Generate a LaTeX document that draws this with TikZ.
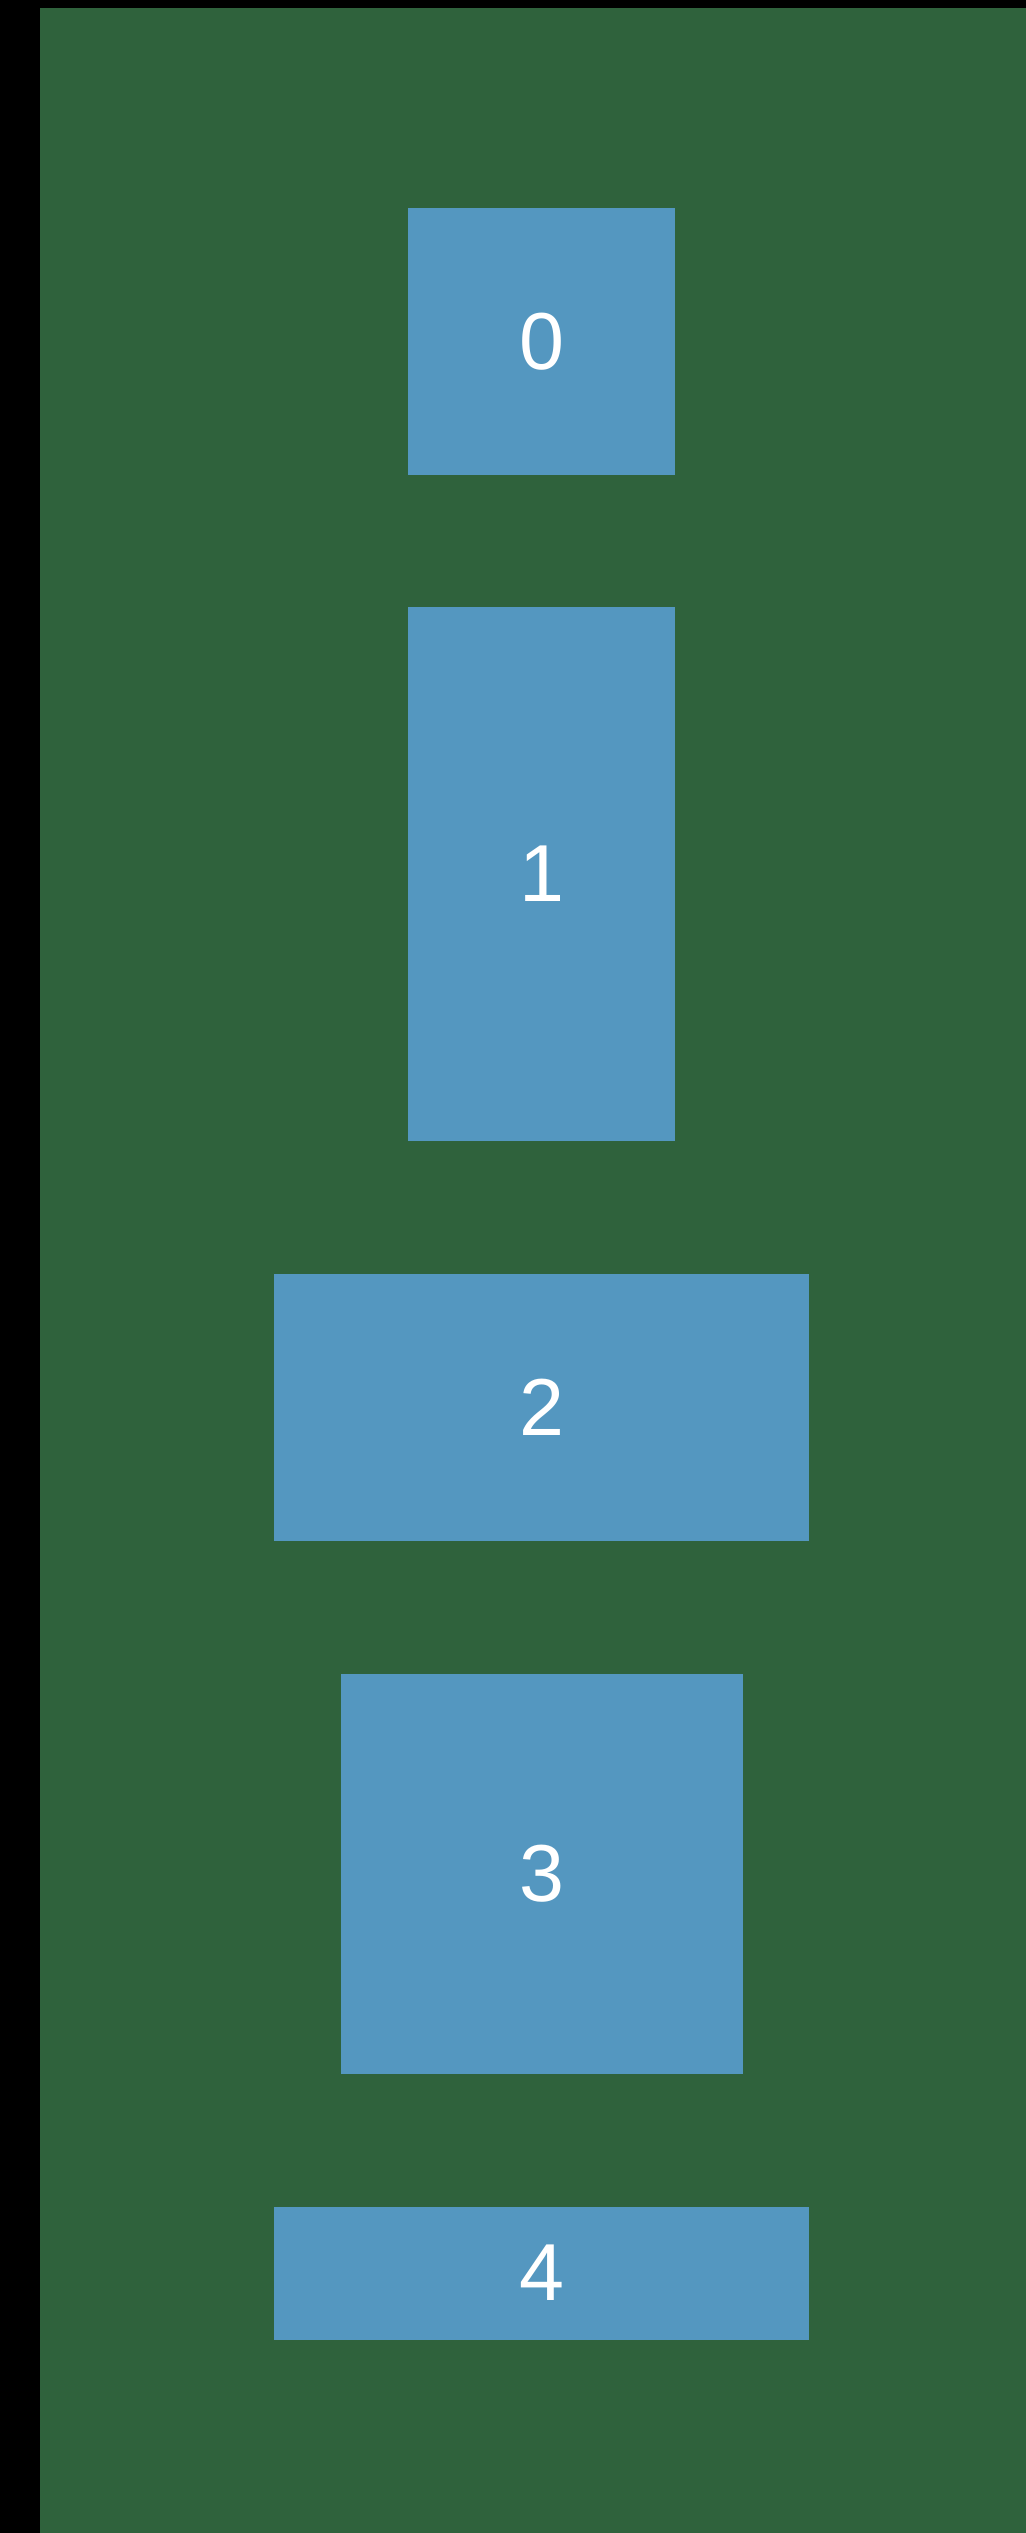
\documentclass[tikz,border=0pt]{standalone}
\usepackage{fontspec}
\setmainfont{Liberation Sans}
\definecolor{bggreen}{RGB}{47,98,60}
\definecolor{boxblue}{RGB}{84,151,192}
\begin{document}
\begin{tikzpicture}[x=0.02cm,y=-0.02cm,
  blk/.style={fill=boxblue,draw=none,inner sep=0pt,text=white,font=\fontsize{46}{50}\selectfont}]
\useasboundingbox (0,0) rectangle (1025,2533);
\fill[black] (-10,-10) rectangle (1040,2545);
\fill[bggreen] (40,8) rectangle (1040,2545);
\node[blk,minimum width=267*0.02cm,minimum height=267*0.02cm] (b0) at (541.5,341.5) {0};
\node[blk,minimum width=267*0.02cm,minimum height=534*0.02cm] (b1) at (541.5,874) {1};
\node[blk,minimum width=535*0.02cm,minimum height=267*0.02cm] (b2) at (541.5,1407) {2};
\node[blk,minimum width=402*0.02cm,minimum height=400*0.02cm] (b3) at (541.5,1874) {3};
\node[blk,minimum width=535*0.02cm,minimum height=133*0.02cm] (b4) at (541.5,2273) {4};
\end{tikzpicture}
\end{document}
